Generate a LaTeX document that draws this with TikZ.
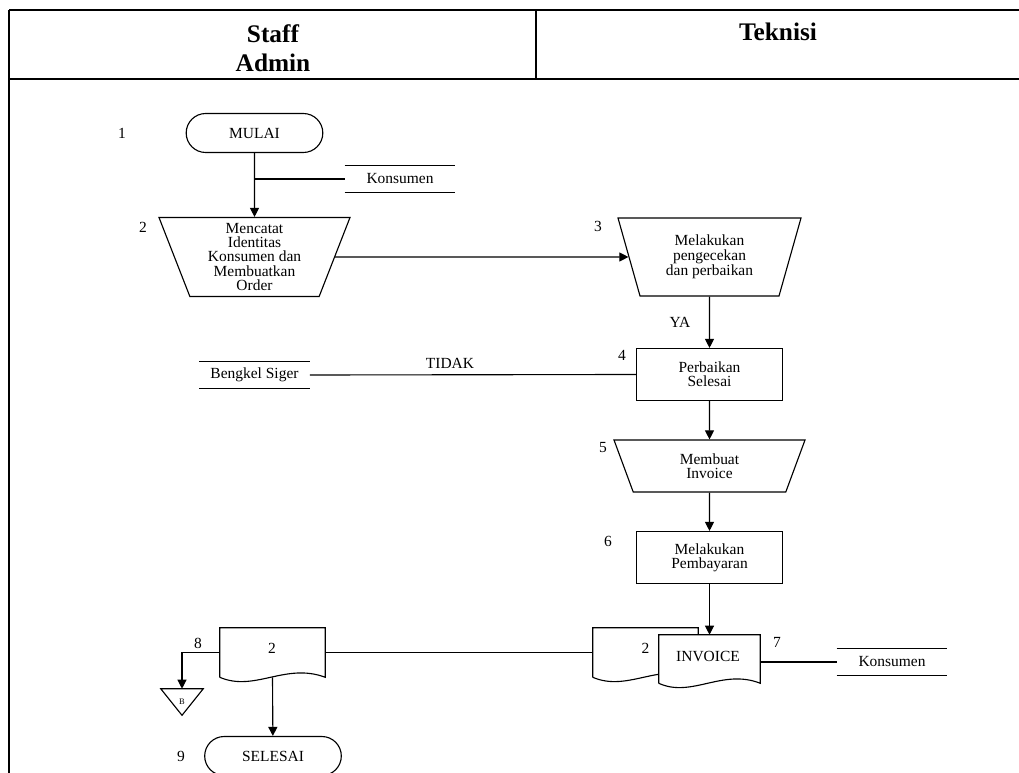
\documentclass[tikz,border=0pt]{standalone}
\usepackage{fontspec}
\setmainfont{Liberation Serif}
\usepackage{tikz}
\usetikzlibrary{arrows.meta,positioning,shapes.geometric,shapes.misc,calc}

\begin{document}
\begin{tikzpicture}[x=0.25mm, y=-0.25mm,
    every node/.style={font=\fontsize{11}{10}\selectfont, align=center},
    line/.style={line width=0.8pt},
    arr/.style={line width=0.8pt, -{Triangle[length=6.5pt,width=6.5pt]}},
    proc/.style={draw, line width=0.8pt, minimum width=36.5mm, minimum height=13mm},
    manual/.style={draw, line width=0.8pt, trapezium, shape border rotate=180,
        trapezium stretches body, inner sep=1pt},
    term/.style={draw, line width=0.8pt, rounded rectangle, minimum width=36.5mm, minimum height=9.75mm},
    store/.style={minimum width=27.5mm, minimum height=6.5mm},
    docu/.style={minimum width=26.25mm, minimum height=12.25mm},
    frame/.style={line width=1.3pt}]
  \useasboundingbox (0,0) rectangle (1019,773);

  % table frame
  \draw[frame] (9,10) -- (1019,10);
  \draw[frame] (9,79) -- (1019,79);
  \draw[frame] (536,10) -- (536,79);
  \draw[frame] (9,10) -- (9,773);
  \node[font=\fontsize{18}{21}\selectfont\bfseries, anchor=base] (hdStaff) at (273,72) {Staff\\Admin};
  \node[font=\fontsize{18}{21}\selectfont\bfseries, anchor=base] (hdTek) at (778,41) {Teknisi};

  % staff admin
  \node[term] (mulai) at (254.5,133) {MULAI};
  \node[store] (konsA) at (400,179) {Konsumen};
  \node[manual, trapezium left angle=66, trapezium right angle=66,
        minimum width=47.75mm, minimum height=19.75mm] (catat) at (254.5,257)
        {Mencatat\\Identitas\\Konsumen dan\\Membuatkan\\Order};
  \node[store] (bengkel) at (254.5,375) {Bengkel Siger};

  % teknisi
  \node[manual, trapezium left angle=64.6, trapezium right angle=64.6,
        minimum width=45.75mm, minimum height=19.5mm] (cek) at (709.5,257)
        {Melakukan\\pengecekan\\dan perbaikan};
  \node[proc] (fix) at (709.5,374.5) {Perbaikan\\Selesai};
  \node[manual, trapezium left angle=55.3, trapezium right angle=55.3,
        minimum width=47.75mm, minimum height=13mm] (buatinv) at (709.5,466) {Membuat\\Invoice};
  \node[proc] (bayar) at (709.5,557.5) {Melakukan\\Pembayaran};

  % documents
  \node[docu] (docB) at (645.5,652.5) {};
  \draw[line, fill=white] (docB.south west) -- (docB.north west) -- (docB.north east) -- (docB.south east)
    .. controls +(-40,-15) and +(35,15) .. (docB.south west);
  \node (docBtxt) at (645.5,648) {2};
  \node[docu, minimum width=25.25mm, minimum height=12mm] (inv) at (709.5,659) {};
  \draw[line, fill=white] (inv.south west) -- (inv.north west) -- (inv.north east) -- (inv.south east)
    .. controls +(-38,-15) and +(33,15) .. (inv.south west);
  \node (invtxt) at (708,656) {INVOICE};
  \node[store] (konsB) at (892,662) {Konsumen};

  \node[docu] (docA) at (272.5,652.5) {};
  \draw[line] (docA.south west) -- (docA.north west) -- (docA.north east) -- (docA.south east)
    .. controls +(-40,-15) and +(35,15) .. (docA.south west);
  \node (docAtxt) at (272,648) {2};
  \node[minimum width=10.5mm, minimum height=6.5mm, font=\fontsize{6}{6}\selectfont] (offB) at (182,702) {B};
  \draw[line] (offB.north west) -- (offB.north east) -- (offB.south) -- cycle;
  \node[term] (selesai) at (273,756) {SELESAI};

  % store lines
  \foreach \s in {konsA,bengkel,konsB}
    \draw[line] (\s.north west) -- (\s.north east) (\s.south west) -- (\s.south east);

  % step numbers
  \node (n1) at (122,133) {1};
  \node (n2) at (143,227) {2};
  \node (n3) at (598,226) {3};
  \node (n4) at (622,355) {4};
  \node (n5) at (603,448) {5};
  \node (n6) at (608,541) {6};
  \node (n7) at (777,642) {7};
  \node (n8) at (198,643) {8};
  \node (n9) at (181,756) {9};

  % connectors
  \draw[arr] (mulai) -- (catat);
  \draw[line] (konsA.west) -- (konsA.west -| mulai.south);
  \draw[arr] (catat.east) -- (cek.west);
  \draw[arr] (cek) -- node[pos=0.5, left=3.5mm] (ya) {YA} (fix);
  \draw[line] (bengkel.east) -- node[pos=0.43, above=1pt] (tidak) {TIDAK} (fix.west);
  \draw[arr] (fix) -- (buatinv);
  \draw[arr] (buatinv) -- (bayar);
  \draw[arr] (bayar) -- (inv);
  \draw[line] (konsB.west -| inv.east) -- (konsB.west);
  \draw[line] (docB.west) -- (docA.east);
  \draw[arr] (docA.west) -| (offB.north);
  \draw[arr] (docA.south) -- (selesai);
\end{tikzpicture}
\end{document}
